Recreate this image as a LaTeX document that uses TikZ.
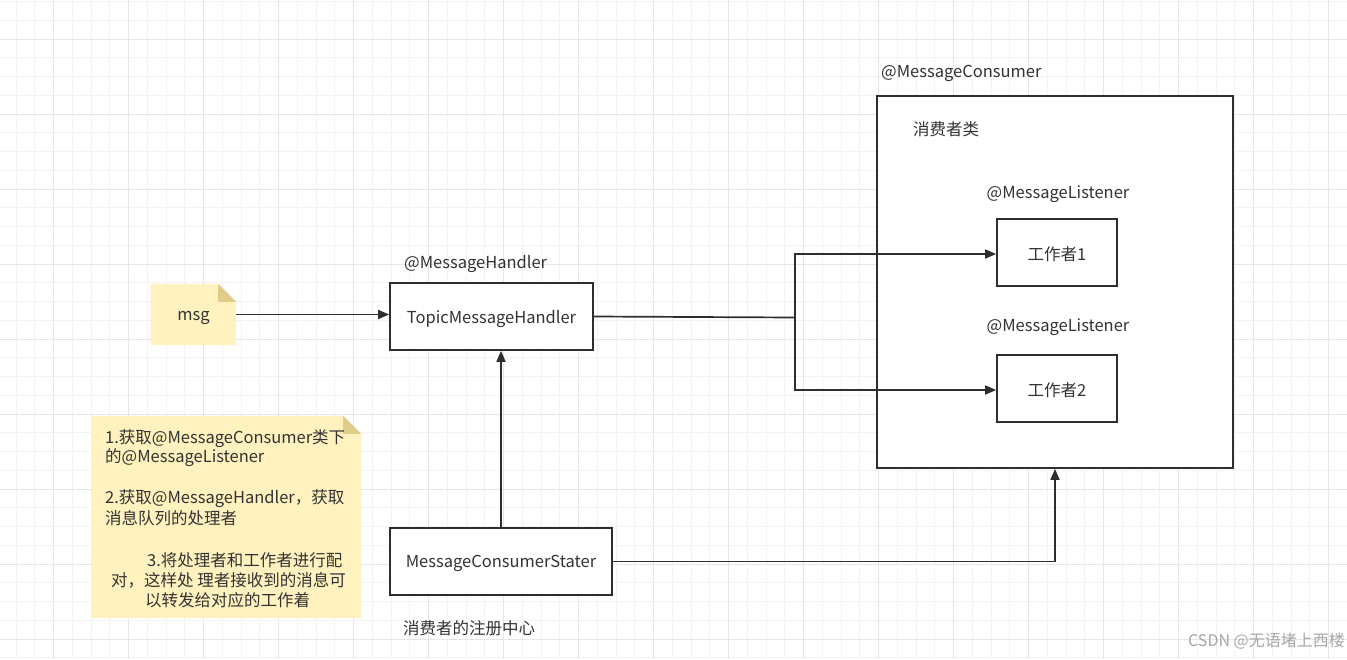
\documentclass[tikz,border=0pt]{standalone}
\usepackage{fontspec}
\setmainfont{Noto Sans CJK SC}
\usetikzlibrary{arrows.meta}
\definecolor{textc}{HTML}{333333}
\definecolor{linec}{HTML}{2E2E2E}
\definecolor{gridminor}{HTML}{F3F3F3}
\definecolor{gridmajor}{HTML}{E6E6E6}
\definecolor{notefill}{HTML}{FFF2BE}
\definecolor{notefold}{HTML}{E2CD88}
\definecolor{wmark}{HTML}{A6A6A6}
\tikzset{
  box/.style={draw=linec, line width=1.7pt, fill=white, inner sep=0pt},
  lbl/.style={font=\fontsize{16.5}{19}\selectfont, text=textc, inner sep=0pt, yshift=-1.5pt},
  conn/.style={draw=linec, line width=1.7pt},
  arr/.style={conn, -{Triangle[length=11pt,width=9pt]}},
  notetxt/.style={lbl, anchor=west},
}
\begin{document}
\begin{tikzpicture}[x=1pt,y=-1pt]
\useasboundingbox (0,0) rectangle (1347,659);
\fill[white] (0,0) rectangle (1347,659);
% grid
\foreach \i in {0,...,71} {\draw[gridminor, line width=1pt] (16+\i*18.75,0) -- (16+\i*18.75,659);}
\foreach \i in {0,...,35} {\draw[gridminor, line width=1pt] (0,1.5+\i*18.75) -- (1347,1.5+\i*18.75);}
\foreach \i in {0,...,17} {\draw[gridmajor, line width=1pt] (53.5+\i*75,0) -- (53.5+\i*75,659);}
\foreach \i in {0,...,8} {\draw[gridmajor, line width=1pt] (0,39+\i*75) -- (1347,39+\i*75);}

% msg note
\node[minimum width=85pt, minimum height=61pt, inner sep=0pt] (msg) at (193.5,314.5) {};
\fill[notefill] (msg.north west) -- ([xshift=-18pt]msg.north east) -- ([yshift=-18pt]msg.north east) -- (msg.south east) -- (msg.south west) -- cycle;
\fill[notefold] ([xshift=-18pt]msg.north east) -- ([yshift=-18pt]msg.north east) -- ([xshift=-18pt,yshift=-18pt]msg.north east) -- cycle;
\node[lbl] (msgtxt) at (193.5,316) {msg};

% big note
\node[minimum width=269pt, minimum height=202pt, inner sep=0pt] (note) at (226.5,517) {};
\fill[notefill] (note.north west) -- ([xshift=-18pt]note.north east) -- ([yshift=-18pt]note.north east) -- (note.south east) -- (note.south west) -- cycle;
\fill[notefold] ([xshift=-18pt]note.north east) -- ([yshift=-18pt]note.north east) -- ([xshift=-18pt,yshift=-18pt]note.north east) -- cycle;
\node[notetxt] (n1) at (105,437) {1.获取@MessageConsumer类下};
\node[notetxt] (n2) at (105,456) {的@MessageListener};
\node[notetxt] (n3) at (105,497) {2.获取@MessageHandler，获取};
\node[notetxt] (n4) at (105,517) {消息队列的处理者};
\node[notetxt] (n5) at (147,559) {3.将处理者和工作者进行配};
\node[notetxt] (n6) at (111,579) {对，这样处 理者接收到的消息可};
\node[notetxt] (n7) at (145,599) {以转发给对应的工作着};

% boxes
\node[box, minimum width=203pt, minimum height=67pt] (tmh) at (491.5,316.5) {};
\node[lbl] (tmhtxt) at (491.5,317) {TopicMessageHandler};
\node[lbl, anchor=west] (mhlbl) at (404,262) {@MessageHandler};

\node[box, minimum width=222pt, minimum height=67pt] (mcs) at (501,561.5) {};
\node[lbl] (mcstxt) at (501,562) {MessageConsumerStater};
\node[lbl, anchor=west] (reglbl) at (403,627) {消费者的注册中心};

\node[box, minimum width=356pt, minimum height=372pt] (cons) at (1055,282) {};
\node[lbl, anchor=west] (conslbl) at (881,72) {@MessageConsumer};
\node[lbl, anchor=west] (clslbl) at (913,128) {消费者类};

\node[box, minimum width=120pt, minimum height=67pt] (w1) at (1057,252.5) {};
\node[lbl] (w1txt) at (1057,253) {工作者1};
\node[lbl] (l1) at (1058,193) {@MessageListener};
\node[box, minimum width=120pt, minimum height=67pt] (w2) at (1057,388.5) {};
\node[lbl] (w2txt) at (1057,389) {工作者2};
\node[lbl] (l2) at (1058,326) {@MessageListener};

% connectors
\coordinate (split) at (795,317.5);
\draw[arr] (msg.east) -- (msg.east -| tmh.west);
\draw[conn] (tmh.east) -- (split);
\draw[arr] (split) |- ([yshift=-1.5pt]w1.west);
\draw[arr] (split) |- ([yshift=-1.5pt]w2.west);
\draw[arr] (mcs.north) -- (mcs.north |- tmh.south);
\draw[arr] (mcs.east) -| (cons.south);

% watermark
\node[font=\fontsize{16}{19}\selectfont, text=wmark, anchor=east, inner sep=0pt, yshift=-1pt] (wm) at (1345,640) {CSDN @无语堵上西楼};
\end{tikzpicture}
\end{document}
